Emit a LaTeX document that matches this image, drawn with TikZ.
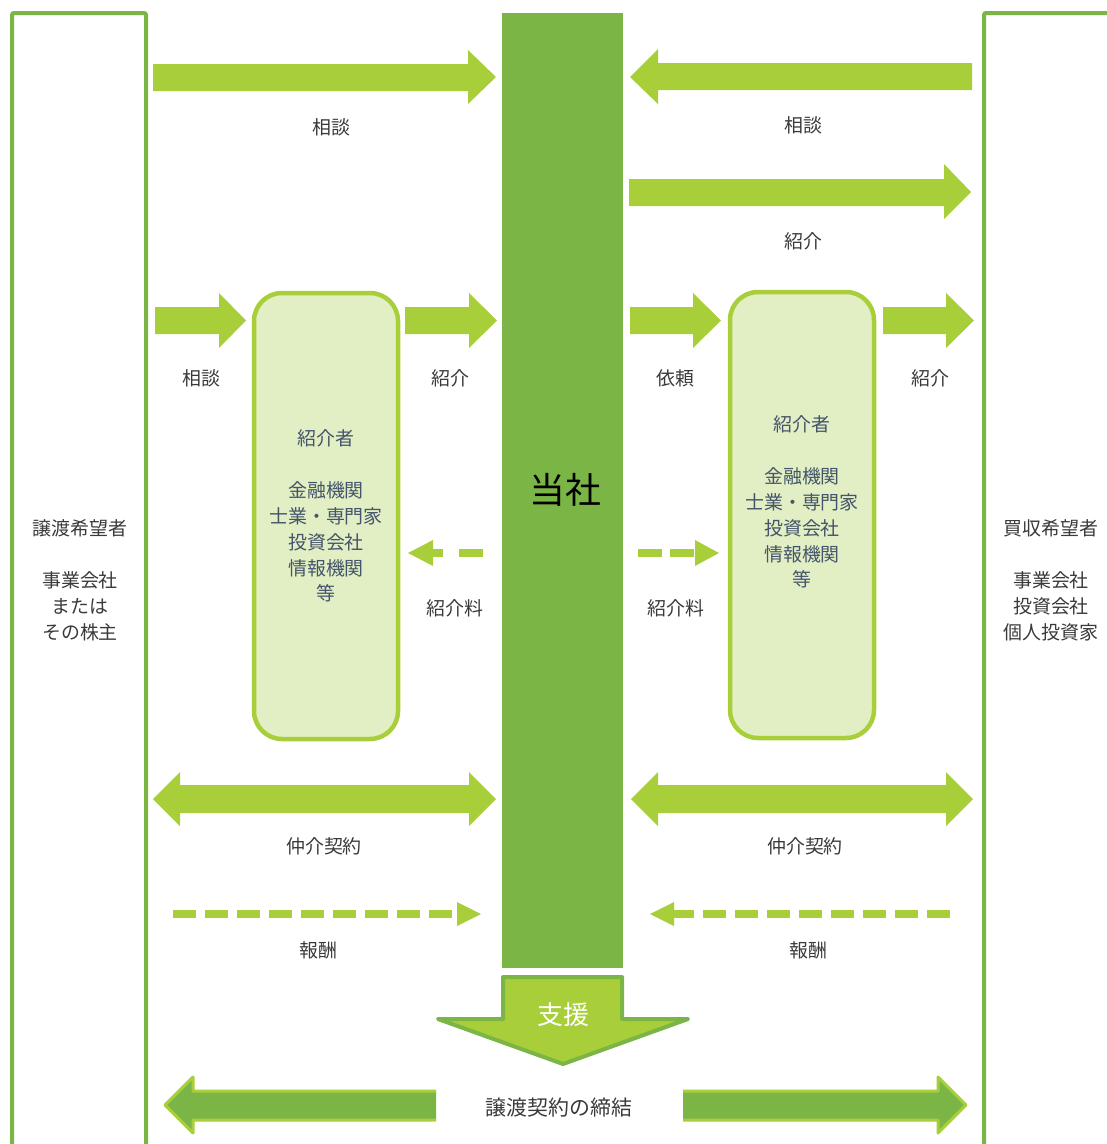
\documentclass[tikz,border=0pt]{standalone}
\usepackage{fontspec}
\setmainfont{Noto Sans CJK JP}
\definecolor{dkgreen}{HTML}{7BB546}
\definecolor{ltgreen}{HTML}{A8CE3A}
\definecolor{boxfill}{HTML}{E2EFC4}
\definecolor{boxtext}{HTML}{44546A}
\definecolor{lbltext}{HTML}{3A3A3A}
\begin{document}
\begin{tikzpicture}[x=1bp,y=-1bp,
  frame/.style={draw=dkgreen,line width=4bp,rounded corners=2bp},
  blockarrow/.style={fill=ltgreen},
  dasharrow/.style={draw=ltgreen,line width=8bp},
  dashhead/.style={fill=ltgreen},
  lbl/.style={text=lbltext,inner sep=0pt,font=\fontsize{19}{26}\selectfont},
  party/.style={text=lbltext,inner sep=0pt,align=center,font=\fontsize{19}{26}\selectfont},
  introbox/.style={draw=ltgreen,fill=boxfill,line width=4.5bp,rounded corners=28bp,
    minimum width=144bp,minimum height=446bp,text=boxtext,align=center,
    font=\fontsize{19}{26}\selectfont},
  bar/.style={fill=dkgreen,minimum width=121bp,minimum height=955bp,inner sep=0pt,
    font=\fontsize{36}{40}\selectfont}
]
\useasboundingbox (0,0) rectangle (1107,1144);
\clip (0,0) rectangle (1107,1144);

% outer party frames
\draw[frame] (12,1160) -- (12,13) -- (146,13) -- (146,1160);
\draw[frame] (984,1160) -- (984,13) -- (1130,13);
\node[party] (seller) at (80,580) {譲渡希望者\\[26bp]事業会社\\または\\その株主};
\node[party] (buyer) at (1051,580) {買収希望者\\[26bp]事業会社\\投資会社\\個人投資家};

% central bar
\node[bar] (firm) at (562.5,490.5) {};
\node[inner sep=0pt,font=\fontsize{36}{40}\selectfont] (firmtxt) at (565,490) {当社};

% introducer boxes
\node[introbox] (introL) at (326,516) {紹介者\\[26bp]金融機関\\士業・専門家\\投資会社\\情報機関\\等};
\node[introbox] (introR) at (802,515) {};
\node[text=boxtext,align=center,inner sep=0pt,font=\fontsize{19}{26}\selectfont] (introRtxt) at (802,502) {紹介者\\[26bp]金融機関\\士業・専門家\\投資会社\\情報機関\\等};

% top arrows
\fill[blockarrow] (153,64) -- (468,64) -- (468,50) -- (496,77) -- (468,104) -- (468,91) -- (153,91) -- cycle;
\node[lbl] (l1) at (331,127) {相談};
\fill[blockarrow] (972,63) -- (658,63) -- (658,49) -- (630,77) -- (658,104) -- (658,90) -- (972,90) -- cycle;
\node[lbl] (l2) at (803,125) {相談};
\fill[blockarrow] (629,179) -- (944,179) -- (944,164) -- (971,192) -- (944,219) -- (944,206) -- (629,206) -- cycle;
\node[lbl] (l3) at (803,241) {紹介};

% small arrows
\fill[blockarrow] (155,307) -- (219,307) -- (219,293) -- (246,320.5) -- (219,348) -- (219,334) -- (155,334) -- cycle;
\fill[blockarrow] (405,307) -- (469,307) -- (469,293) -- (497,320.5) -- (469,348) -- (469,334) -- (405,334) -- cycle;
\fill[blockarrow] (630,307) -- (693,307) -- (693,293) -- (721,320.5) -- (693,348) -- (693,334) -- (630,334) -- cycle;
\fill[blockarrow] (883,307) -- (946,307) -- (946,293) -- (974,320.5) -- (946,348) -- (946,334) -- (883,334) -- cycle;
\node[lbl] (l4) at (201,378) {相談};
\node[lbl] (l5) at (450,378) {紹介};
\node[lbl] (l6) at (675,378) {依頼};
\node[lbl] (l7) at (930,378) {紹介};

% fee dashed arrows
\draw[dasharrow,dash pattern=on 24bp off 16bp] (483,553) -- (433,553);
\fill[dashhead] (408,553) -- (433,540) -- (433,566) -- cycle;
\node[lbl] (l8) at (455,608) {紹介料};
\draw[dasharrow,dash pattern=on 24bp off 8bp] (638,553) -- (695,553);
\fill[dashhead] (719,553) -- (695,540) -- (695,566) -- cycle;
\node[lbl] (l9) at (676,608) {紹介料};

% double arrows
\fill[blockarrow] (153,799) -- (180,772) -- (180,785) -- (469,785) -- (469,772) -- (496,799) -- (469,826) -- (469,813) -- (180,813) -- (180,826) -- cycle;
\fill[blockarrow] (631,799) -- (658,772) -- (658,785) -- (946,785) -- (946,772) -- (973,799) -- (946,826) -- (946,813) -- (658,813) -- (658,826) -- cycle;
\node[lbl] (l10) at (324,846) {仲介契約};
\node[lbl] (l11) at (805,846) {仲介契約};

% fee (reward) dashed arrows
\draw[dasharrow,dash pattern=on 23bp off 9bp] (173,914) -- (457,914);
\fill[dashhead] (481,914) -- (457,902) -- (457,926) -- cycle;
\node[lbl] (l12) at (318,950) {報酬};
\draw[dasharrow,dash pattern=on 20bp off 9bp on 23bp off 9bp on 23bp off 9bp on 23bp off 9bp on 23bp off 9bp on 23bp off 9bp on 23bp off 9bp on 23bp off 9bp on 23bp off 9bp on 23bp off 9bp] (674,914) -- (958,914);
\fill[dashhead] (650,914) -- (674,902) -- (674,926) -- cycle;
\node[lbl] (l13) at (808,950) {報酬};

% support arrow
\draw[fill=ltgreen,draw=dkgreen,line width=4bp,line join=round] (503,977) -- (622,977) -- (622,1019) -- (688,1019) -- (563,1064) -- (438,1019) -- (503,1019) -- cycle;
\node[text=white,inner sep=0pt,font=\fontsize{26}{30}\selectfont] (support) at (563,1015) {支援};

% conclusion arrows
\fill[dkgreen] (436,1091) -- (193,1091) -- (193,1077) -- (165,1105) -- (193,1133) -- (193,1120) -- (436,1120) -- cycle;
\draw[ltgreen,line width=3bp,line join=round] (436,1091) -- (193,1091) -- (193,1077) -- (165,1105) -- (193,1133) -- (193,1120) -- (436,1120);
\fill[dkgreen] (683,1091) -- (938,1091) -- (938,1077) -- (966,1105) -- (938,1133) -- (938,1120) -- (683,1120) -- cycle;
\draw[ltgreen,line width=3bp,line join=round] (683,1091) -- (938,1091) -- (938,1077) -- (966,1105) -- (938,1133) -- (938,1120) -- (683,1120);
\node[lbl,font=\fontsize{21}{26}\selectfont] (concl) at (559,1108) {譲渡契約の締結};
\end{tikzpicture}
\end{document}
